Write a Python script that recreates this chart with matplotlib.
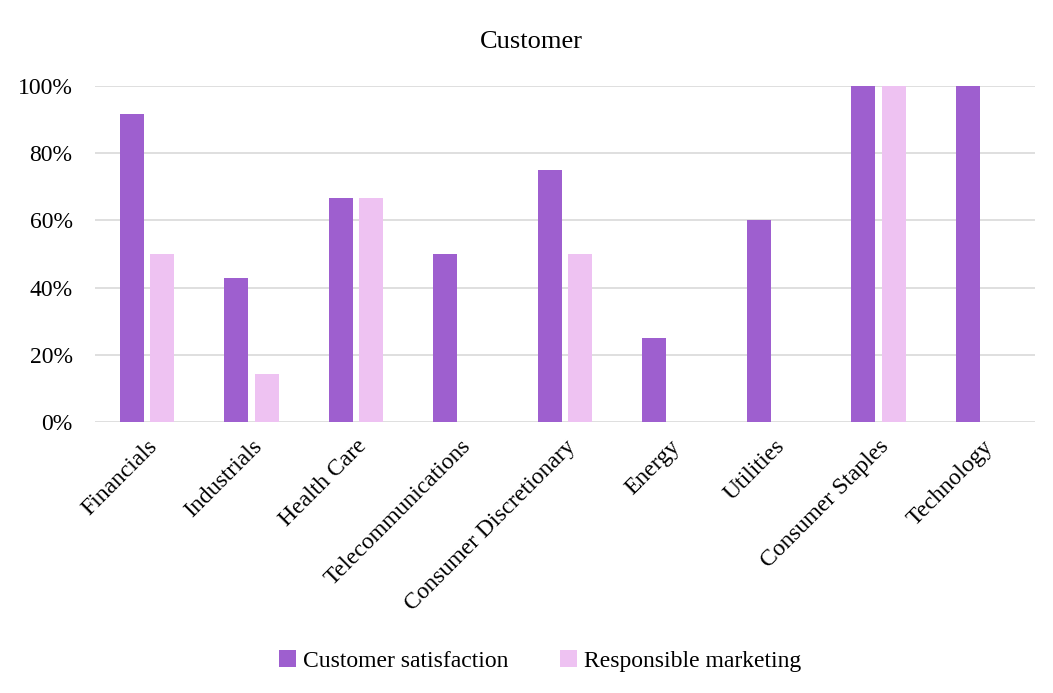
import matplotlib
matplotlib.use("Agg")
import matplotlib.pyplot as plt
from matplotlib.ticker import PercentFormatter
import numpy as np

plt.rcParams.update({"font.family": ["Liberation Serif", "DejaVu Serif"], "font.size": 17})

sectors = ["Financials", "Industrials", "Health Care", "Telecommunications",
           "Consumer Discretionary", "Energy", "Utilities", "Consumer Staples", "Technology"]
satisfaction = [91.7, 42.9, 66.7, 50.0, 75.0, 25.0, 60.0, 100.0, 100.0]
marketing = [50.0, 14.3, 66.7, 0.0, 50.0, 0.0, 0.0, 100.0, 0.0]

PURPLE, PINK = "#9e5fcf", "#eec2f2"

fig = plt.figure(figsize=(10.53, 6.93), dpi=100)
ax = fig.add_axes([0.090, 0.391, 0.893, 0.485])

x = np.arange(len(sectors))
w = 0.23
ax.bar(x - 0.145, satisfaction, width=w, color=PURPLE, label="Customer satisfaction", zorder=3)
ax.bar(x + 0.145, marketing, width=w, color=PINK, label="Responsible marketing", zorder=3)

ax.set_xlim(-0.5, len(sectors) - 0.5)
ax.set_ylim(0, 100)
ax.set_yticks(np.arange(0, 101, 20))
ax.yaxis.set_major_formatter(PercentFormatter(decimals=0))
ax.grid(axis="y", color="#d9d9d9", lw=1.2, zorder=0)
for s in ax.spines.values():
    s.set_visible(False)
ax.tick_params(length=0, labelsize=17)
ax.tick_params(axis="y", pad=16)
ax.set_xticks(x)
ax.set_xticklabels(sectors, rotation=45, ha="right", rotation_mode="anchor")
ax.tick_params(axis="x", pad=10)

fig.text(0.505, 0.94, "Customer", ha="center", va="center", fontsize=19)
fig.legend(loc="center", bbox_to_anchor=(0.513, 0.046), ncol=2, frameon=False,
           handlelength=0.7, handleheight=0.7, handletextpad=0.3, columnspacing=2.2,
           fontsize=17)

fig.savefig("out.png", dpi=100)
